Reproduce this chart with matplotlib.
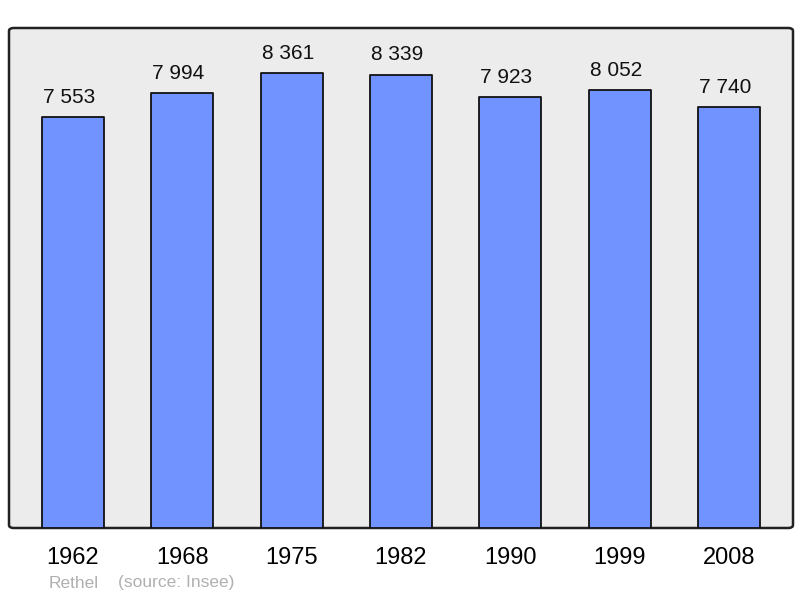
import matplotlib.pyplot as plt
from matplotlib.patches import FancyBboxPatch

years = ["1962", "1968", "1975", "1982", "1990", "1999", "2008"]
population = [7553, 7994, 8361, 8339, 7923, 8052, 7740]
value_labels = ["7 553", "7 994", "8 361", "8 339", "7 923", "8 052", "7 740"]

plt.rcParams['font.family'] = ['Liberation Sans', 'DejaVu Sans']

fig = plt.figure(figsize=(8, 5.98), dpi=100)
ax = fig.add_axes([9 / 800, 1 - 528 / 598, 784 / 800, 500 / 598])
ax.set_facecolor('none')

# rounded background frame
frame = FancyBboxPatch((0, 0), 1, 1, boxstyle="round,pad=0,rounding_size=0.006",
                       transform=ax.transAxes, facecolor='#ececec', edgecolor='#222222',
                       linewidth=1.8, zorder=0, clip_on=False)
ax.add_patch(frame)

x = range(len(years))
bars = ax.bar(x, population, width=0.567, color='#7093ff', edgecolor='#111111',
              linewidth=1.3, zorder=2)
for b in bars:
    b.set_joinstyle('round')

# labels sit slightly left of the bar centre in the original
for xi, v, lab in zip(x, population, value_labels):
    ax.text(xi - 0.035, v + 195, lab, ha='center', va='bottom', fontsize=15, color='#111111')

ax.set_xlim(-0.585, 6.585)
ax.set_ylim(0, 9197)
for s in ax.spines.values():
    s.set_visible(False)
ax.set_yticks([])
ax.set_xticks(list(x))
ax.set_xticklabels(years, fontsize=17)
ax.tick_params(axis='x', length=0, pad=14)

fig.text(49 / 800, 1 - 583 / 598, "Rethel", fontsize=12.5, color='#b0b0b0', va='center')
fig.text(118 / 800, 1 - 583 / 598, "(source: Insee)", fontsize=12.5, color='#b0b0b0', va='center')

fig.savefig('out.png', dpi=100)
